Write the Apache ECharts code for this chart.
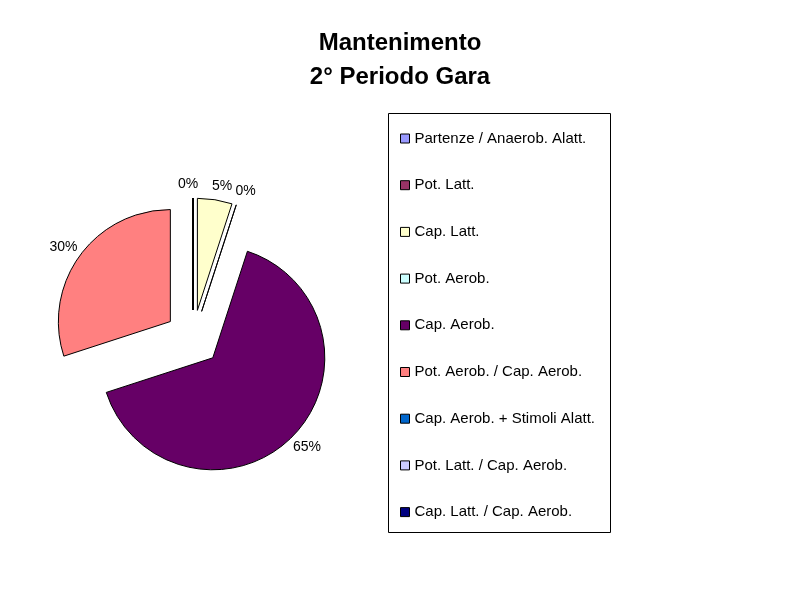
<!DOCTYPE html>
<html>
<head>
<meta charset="utf-8">
<script src="https://cdn.jsdelivr.net/npm/echarts@6/dist/echarts.min.js"></script>
<style>
html, body { margin: 0; padding: 0; background: #fff; }
#main { width: 800px; height: 600px; }
</style>
</head>
<body>
<div id="main"></div>
<script>
var categories = [
  'Partenze / Anaerob. Alatt.',
  'Pot. Latt.',
  'Cap. Latt.',
  'Pot. Aerob.',
  'Cap. Aerob.',
  'Pot. Aerob. / Cap. Aerob.',
  'Cap. Aerob. + Stimoli Alatt.',
  'Pot. Latt. / Cap. Aerob.',
  'Cap. Latt. / Cap. Aerob.'
]
var values = [0, 0, 5, 0, 65, 30, 0, 0, 0]
var colors = ['#9999FF', '#993366', '#FFFFCC', '#CCFFFF', '#660066', '#FF8080', '#0066CC', '#CCCCFF', '#000080']

var FONT = '"Liberation Sans", Arial, sans-serif'

var data = categories.map(function (name, i) {
  return { name: name, value: values[i], selected: true }
})

var chart = echarts.init(document.getElementById('main'), null, { renderer: 'canvas' })

chart.setOption({
  animation: false,
  color: colors,
  title: {
    text: 'Mantenimento\n2° Periodo Gara',
    left: 'center',
    top: 21,
    textStyle: { fontFamily: FONT, fontSize: 24, fontWeight: 'bold', color: '#000', lineHeight: 34 }
  },
  graphic: [{
    type: 'rect',
    shape: { x: 388.5, y: 113.5, width: 222, height: 419 },
    style: { fill: 'none', stroke: '#000', lineWidth: 1 },
    silent: true
  }],
  legend: {
    orient: 'vertical',
    left: 400,
    top: 131,
    padding: 0,
    itemWidth: 9,
    itemHeight: 9,
    itemGap: 31.7,
    icon: 'rect',
    selectedMode: false,
    itemStyle: { borderColor: '#000', borderWidth: 1 },
    textStyle: { fontFamily: FONT, fontSize: 15, lineHeight: 14, color: '#000' },
    data: categories
  },
  series: [{
    type: 'pie',
    center: [193, 338],
    radius: 112,
    startAngle: 90,
    clockwise: true,
    selectedMode: 'multiple',
    selectedOffset: 28,
    avoidLabelOverlap: false,
    emphasis: { disabled: true },
    itemStyle: { borderColor: '#000', borderWidth: 1 },
    select: { itemStyle: { borderColor: '#000', borderWidth: 1 } },
    label: {
      show: true,
      position: 'outside',
      formatter: '{d}%',
      fontFamily: FONT,
      fontSize: 14,
      color: '#000'
    },
    labelLine: { show: true, length: 14, length2: 0, lineStyle: { opacity: 0 } },
    labelLayout: function (p) {
      var pts = p.labelLinePoints
      if (!pts) return { hideOverlap: true }
      var dx = pts[1][0] - pts[0][0]
      var dy = pts[1][1] - pts[0][1]
      var len = Math.sqrt(dx * dx + dy * dy) || 1
      dx /= len
      dy /= len
      return {
        x: pts[1][0] + dx * p.labelRect.width / 2,
        y: pts[1][1] + dy * p.labelRect.height / 2,
        align: 'center',
        verticalAlign: 'middle',
        hideOverlap: true
      }
    },
    data: data
  }]
})
</script>
</body>
</html>
